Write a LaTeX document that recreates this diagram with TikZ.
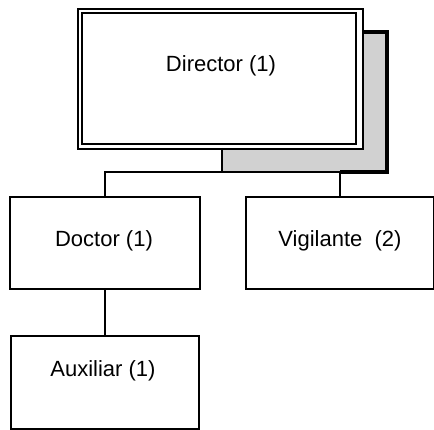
\documentclass[tikz,border=0pt]{standalone}
\usepackage{fontspec}
\setmainfont{Liberation Sans}
\begin{document}
\begin{tikzpicture}[x=1pt,y=-1pt,
  box/.style={draw=black,line width=2pt,fill=white},
  lbl/.style={anchor=base,inner sep=0pt,font=\fontsize{22}{26}\selectfont},
  conn/.style={draw=black,line width=2pt}]
\useasboundingbox (0,0) rectangle (434,430);
% shadow of Director box
\fill[black!18] (362,31) -- (387,31) -- (387,172) -- (222,172) -- (222,148) -- (362,148) -- cycle;
\draw[line width=3.5pt] (362,32) -- (387,32) -- (387,172) -- (340,172);
% connectors
\coordinate (bar) at (222,172);
\node[box,minimum width=285pt,minimum height=140pt,inner sep=0pt,anchor=north west] (dir) at (77,8) {};
\draw[line width=2pt] (82,13) rectangle (356,144);
\node[box,minimum width=190pt,minimum height=92pt,inner sep=0pt,anchor=north west] (doc) at (9,196) {};
\node[box,minimum width=188pt,minimum height=92pt,inner sep=0pt,anchor=north west] (vig) at (245,196) {};
\node[box,minimum width=188pt,minimum height=93pt,inner sep=0pt,anchor=north west] (aux) at (10,335) {};
\draw[conn] (222,148) -- (bar);
\draw[conn] (doc.north) |- (bar) -| (vig.north);
\draw[conn] (doc.south) -- (aux.north);
% labels
\node[lbl] (tdir) at (221,72) {Director (1)};
\node[lbl] (tdoc) at (104,247) {Doctor (1)};
\node[lbl] (tvig) at (340,247) {Vigilante\ \ (2)};
\node[lbl] (taux) at (103,377) {Auxiliar (1)};
\end{tikzpicture}
\end{document}
